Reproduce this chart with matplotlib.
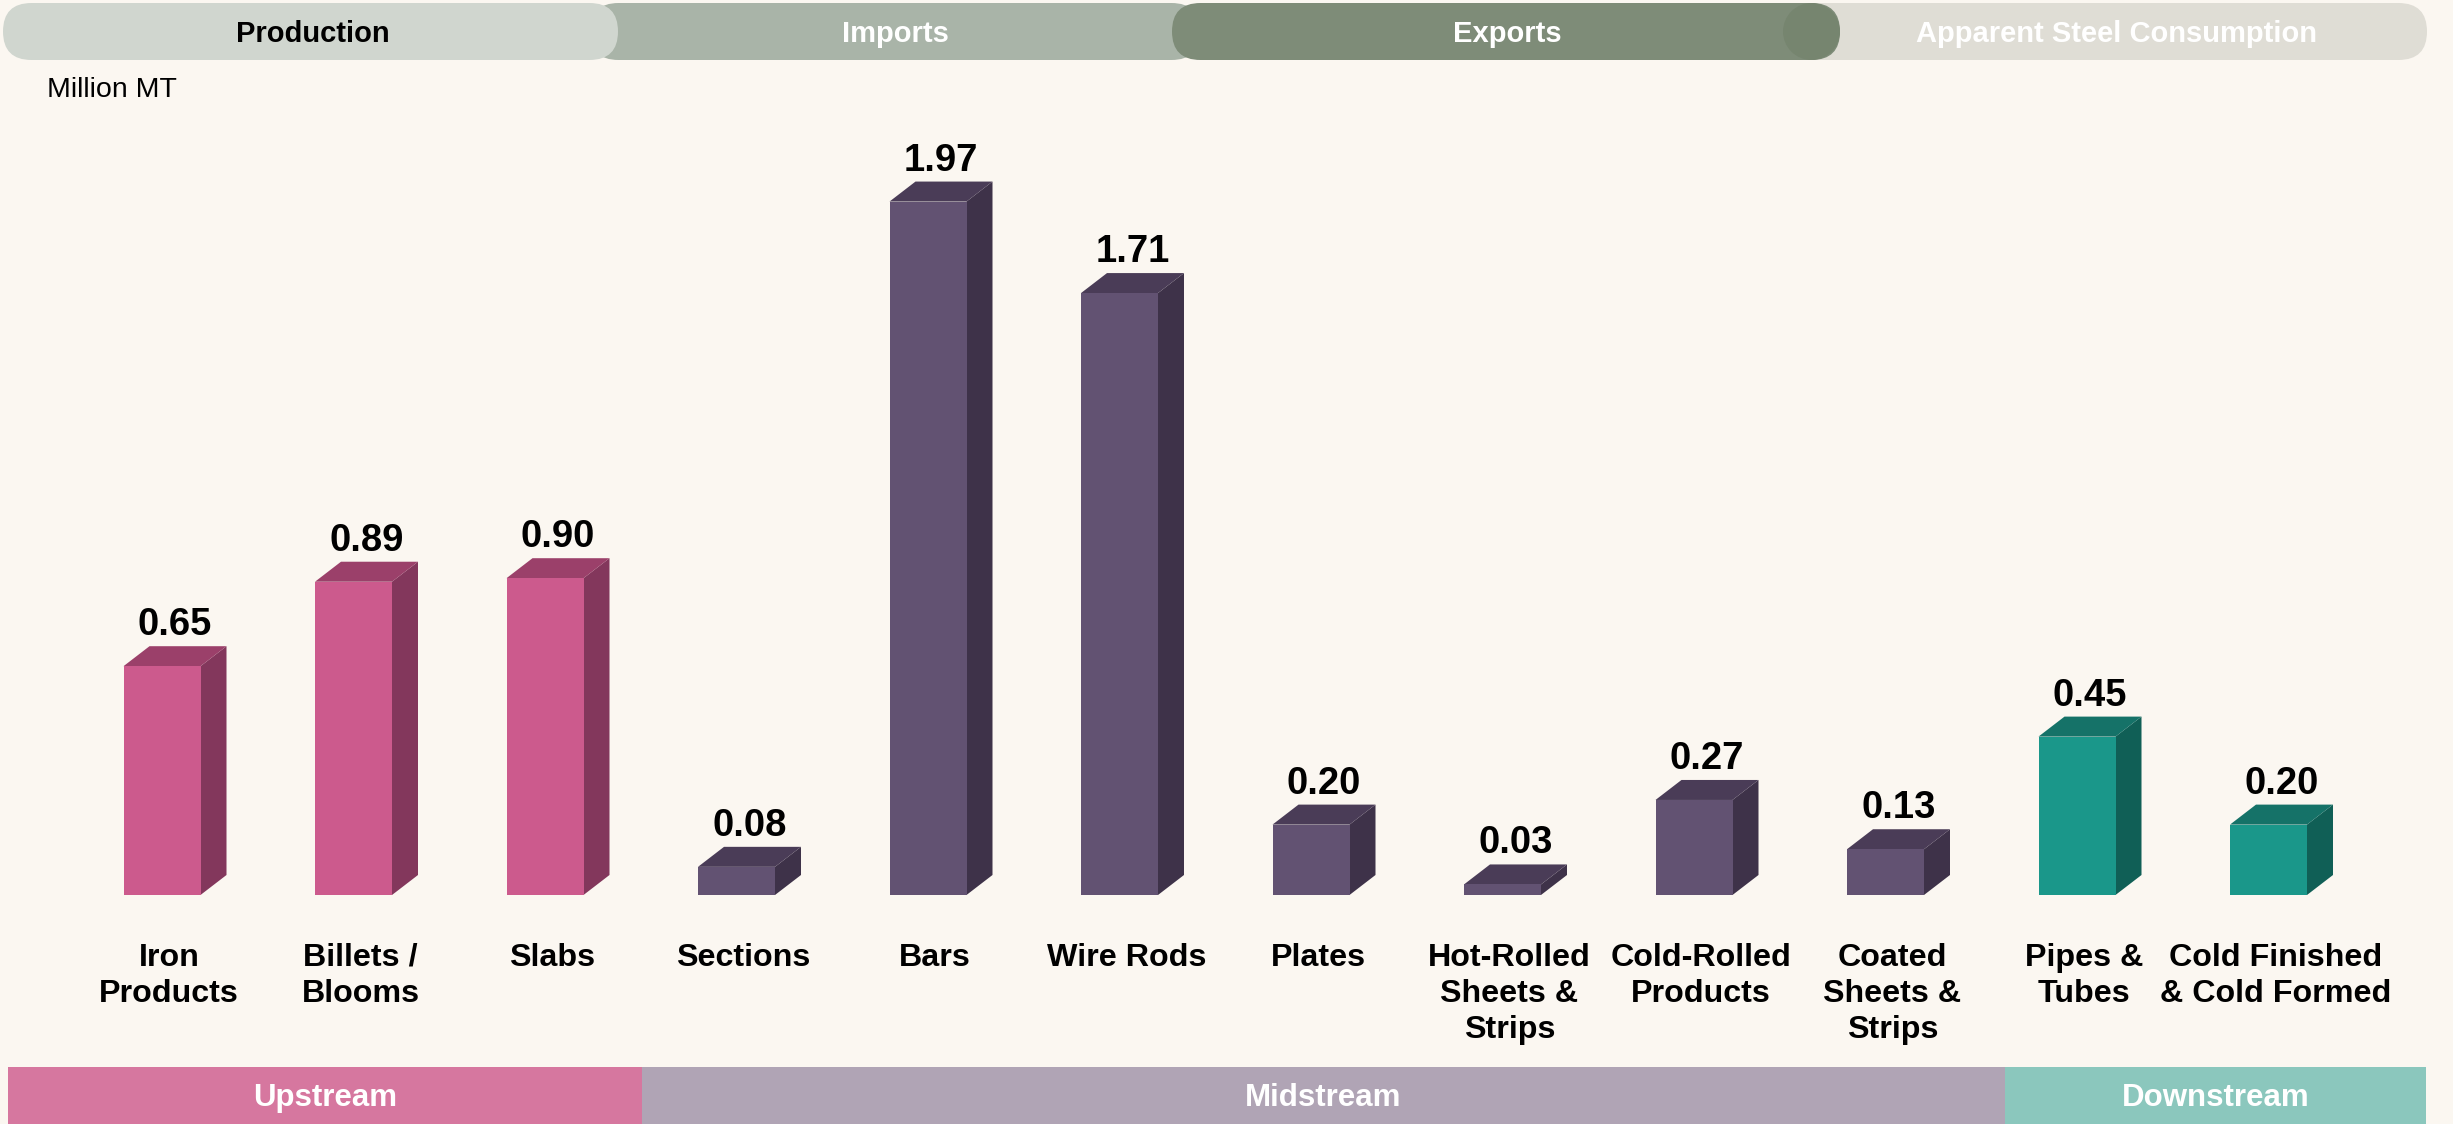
"""
steel product output by value-chain stage, drawn as pseudo-3D bars
"""
import matplotlib
matplotlib.use("Agg")
import matplotlib.pyplot as plt
from matplotlib.patches import Polygon, FancyBboxPatch, Rectangle, Ellipse

plt.rcParams['font.family'] = ['Liberation Sans', 'DejaVu Sans']

# data
categories = ["Iron\nProducts", "Billets /\nBlooms", "Slabs", "Sections", "Bars",
              "Wire Rods", "Plates", "Hot-Rolled\nSheets &\nStrips", "Cold-Rolled\nProducts",
              "Coated\nSheets &\nStrips", "Pipes &\nTubes", "Cold Finished\n& Cold Formed"]
values = [0.65, 0.89, 0.90, 0.08, 1.97, 1.71, 0.20, 0.03, 0.27, 0.13, 0.45, 0.20]
stage = ["Upstream"] * 3 + ["Midstream"] * 7 + ["Downstream"] * 2
tabs = ["Production", "Imports", "Exports", "Apparent Steel Consumption"]
unit_label = "Million MT"

# colours: front, side, top
STAGE_COLORS = {
    "Upstream": ("#CC5A8D", "#83375C", "#9B406A"),
    "Midstream": ("#625272", "#3E3249", "#4A3C57"),
    "Downstream": ("#1A978A", "#105F56", "#157268"),
}
BAND_COLORS = {"Upstream": "#D6779F", "Midstream": "#B0A4B5", "Downstream": "#8BC7BD"}
BG = "#FBF7F1"

W, H = 2453, 1124
fig = plt.figure(figsize=(W / 100, H / 100), dpi=100, facecolor=BG)

# decoration layer in pixel coordinates
deco = fig.add_axes([0, 0, 1, 1])
deco.set_xlim(0, W)
deco.set_ylim(H, 0)
deco.axis("off")
deco.set_facecolor(BG)

def pill(x0, x1, color):
    p = FancyBboxPatch((x0, 3), x1 - x0, 57, boxstyle="round,pad=0,rounding_size=28.5",
                       facecolor=color, edgecolor="none")
    deco.add_patch(p)
    return p

pill(590, 1200, "#A9B4A8")
pill(1785, 2427, "#DFDDD5")
pill(1172, 1840, "#7E8C78")
deco.add_patch(Ellipse((1811.5, 31.5), 57, 57, facecolor="#76856F", edgecolor="none"))
pill(3, 618, "#D0D6CF")

tab_x = [313, 895, 1507, 2117]
tab_colors = ["black", "white", "white", "white"]
for name, tx, tc in zip(tabs, tab_x, tab_colors):
    deco.text(tx, 34, name, ha="center", va="center", fontsize=21,
              fontweight="bold", color=tc)

deco.text(47, 90, unit_label, ha="left", va="center", fontsize=20.5, color="black")

# value-chain band at the bottom
bands = [("Upstream", 8, 642), ("Midstream", 642, 2005), ("Downstream", 2005, 2426)]
for name, x0, x1 in bands:
    deco.add_patch(Rectangle((x0, 1067), x1 - x0, H - 1067,
                             facecolor=BAND_COLORS[name], edgecolor="none"))
    deco.text((x0 + x1) / 2, 1098, name, ha="center", va="center", fontsize=22.5,
              fontweight="bold", color="white")

# bar layer in data coordinates
ax = fig.add_axes([0, 0, 1, 1])
ax.patch.set_alpha(0)
ax.axis("off")
x0px, step, base_px, unit_px = 162, 191.5, 895, 352
ax.set_xlim(-x0px / step, (W - x0px) / step)
ax.set_ylim(-(H - base_px) / unit_px, base_px / unit_px)

bw = 77 / step
dx = 26 / step
dy = 20 / unit_px
lab_off = 7 / step

xs = list(range(len(values)))
fronts = [STAGE_COLORS[s][0] for s in stage]
ax.bar(xs, values, width=bw, color=fronts, edgecolor="none", zorder=3)
for x, v, s in zip(xs, values, stage):
    _, side_c, top_c = STAGE_COLORS[s]
    r = x + bw / 2
    l = x - bw / 2
    ax.add_patch(Polygon([(r, 0), (r + dx, dy), (r + dx, v + dy), (r, v)],
                         closed=True, facecolor=side_c, edgecolor="none", zorder=2))
    ax.add_patch(Polygon([(l, v), (r, v), (r + dx, v + dy), (l + dx, v + dy)],
                         closed=True, facecolor=top_c, edgecolor="none", zorder=2))
    ax.text(x + dx / 2, v + dy + 11 / unit_px, f"{v:.2f}", ha="center", va="baseline",
            fontsize=27.5, fontweight="bold", color="black")

for x, name in zip(xs, categories):
    ax.text(x + lab_off, -(943 - base_px) / unit_px, name, ha="center", va="top",
            fontsize=23.2, fontweight="bold", color="black", linespacing=1.26)

fig.savefig("out.png", dpi=100, facecolor=BG)
